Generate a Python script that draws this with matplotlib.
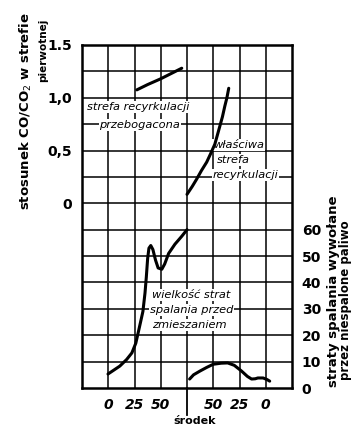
import matplotlib
matplotlib.use('Agg')
import matplotlib.pyplot as plt
import numpy as np

# ratio CO/CO2 in the primary zone (left axis)
rich_x = [2.09, 2.5, 3.0, 3.4, 3.8]
rich_y = [1.075, 1.125, 1.18, 1.23, 1.28]
recirc_x = [4.0, 4.2, 4.37, 4.55, 4.75, 4.9, 5.06, 5.15, 5.25, 5.35, 5.44, 5.52, 5.59]
recirc_y = [0.085, 0.16, 0.23, 0.31, 0.39, 0.47, 0.56, 0.64, 0.73, 0.82, 0.92, 1.0, 1.09]

# losses from unburnt fuel (right axis)
premix_x = [0.99, 1.2, 1.44, 1.7, 1.9, 2.05, 2.13, 2.22, 2.32, 2.4, 2.45, 2.5,
            2.55, 2.62, 2.7, 2.8, 2.9, 3.04, 3.15, 3.3, 3.54, 3.8, 4.0]
premix_v = [5.3, 6.7, 8.3, 10.8, 13.3, 17, 20.5, 24.5, 29, 36, 42, 49,
            53, 54, 52.5, 48.5, 45.5, 45, 47, 51, 54.5, 57.5, 60]
centre_x = [4.1, 4.25, 4.49, 4.75, 5.0, 5.3, 5.55, 5.8, 6.08, 6.3, 6.46, 6.6,
            6.7, 6.9, 7.05, 7.15]
centre_v = [3.4, 5, 6.4, 7.8, 9, 9.4, 9.5, 8.6, 6.4, 4.4, 3.4, 3.5,
            3.8, 3.8, 3.2, 2.6]

left_ticks = [0, 0.5, 1.0, 1.5]
left_labels = ['0', '0,5', '1,0', '1.5']
right_ticks = [0, 10, 20, 30, 40, 50, 60]
x_ticks = [1, 2, 3, 5, 6, 7]
x_labels = ['0', '25', '50', '50', '25', '0']

narrow = ['Liberation Sans Narrow', 'DejaVu Sans']
line_kw = dict(color='black', lw=2.2, solid_joinstyle='round', solid_capstyle='round')

fig = plt.figure(figsize=(3.55, 4.32), dpi=100)
ax = fig.add_axes([82/355, 1-388/432, 210/355, 343/432])
ax.set_xlim(0, 8)
ax.set_ylim(-1.75, 1.5)

# grid
for gx in range(1, 8):
    ax.axvline(gx, color='black', lw=1.1, zorder=1)
for gy in np.arange(-1.5, 1.5, 0.25):
    ax.axhline(gy, color='black', lw=1.1, zorder=1)
for s in ax.spines.values():
    s.set_linewidth(1.8)

ax.set_yticks(left_ticks)
ax.set_yticklabels(left_labels, fontsize=10, family=narrow, fontweight='bold')
ax.set_xticks(x_ticks)
ax.set_xticklabels(x_labels, fontsize=10, family=narrow, style='italic',
                   fontweight='bold')
ax.tick_params(length=0, pad=7)
# long tick for the centre
ax.axvline(4, ymin=-0.08, ymax=0, color='black', lw=1.3, clip_on=False)
ax.text(4.3, -0.095, 'środek', transform=ax.get_xaxis_transform(),
        ha='center', va='center', fontsize=8, family=narrow, fontweight='bold')

ax.plot(rich_x, rich_y, zorder=3, **line_kw)
ax.plot(recirc_x, recirc_y, zorder=3, **line_kw)

box = dict(facecolor='white', edgecolor='none', pad=0.6)
txt = dict(fontsize=8.2, family=narrow, style='italic', bbox=box, va='center')
ax.text(2.13, 0.912, 'strefa recyrkulacji', ha='center', zorder=2, **txt)
ax.text(2.2, 0.742, 'przebogacona', ha='center', zorder=2, **txt)
ax.text(4.99, 0.552, 'właściwa', ha='left', zorder=2, **txt)
ax.text(5.14, 0.41, 'strefa', ha='left', zorder=2, **txt)
ax.text(4.97, 0.268, 'recyrkulacji', ha='left', zorder=2, **txt)

ax2 = ax.twinx()
ax2.set_ylim(0, 130)
ax2.set_yticks(right_ticks)
ax2.set_yticklabels([str(t) for t in right_ticks], fontsize=10, family=narrow,
                    fontweight='bold')
ax2.tick_params(length=0, pad=7)
for s in ax2.spines.values():
    s.set_visible(False)
ax2.plot(premix_x, premix_v, **line_kw)
ax2.plot(centre_x, centre_v, **line_kw)
ax2.text(2.67, 35.3, 'wielkość strat', ha='left', **txt)
ax2.text(2.6, 29.6, 'spalania przed', ha='left', **txt)
ax2.text(2.67, 23.9, 'zmieszaniem', ha='left', **txt)

# axis titles
fig.text(26/355, 1-111/432, 'stosunek CO/CO$_2$ w strefie', rotation=90,
         ha='center', va='center', fontsize=9.5, fontweight='bold')
fig.text(43/355, 1-50/432, 'pierwotnej', rotation=90,
         ha='center', va='center', fontsize=7.5, fontweight='bold')
fig.text(334/355, 1-291/432, 'straty spalania wywołane', rotation=90,
         ha='center', va='center', fontsize=9.5, fontweight='bold')
fig.text(346/355, 1-300/432, 'przez niespalone paliwo', rotation=90,
         ha='center', va='center', fontsize=8.5, fontweight='bold')

plt.savefig('out.png', dpi=100)
